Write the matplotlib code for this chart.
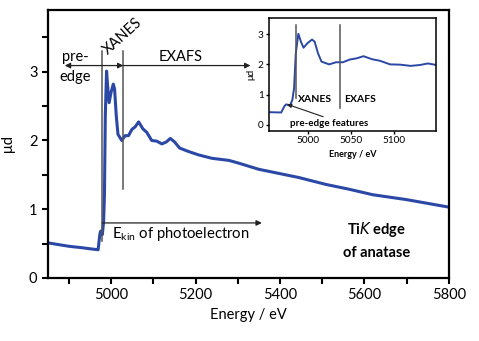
import matplotlib.pyplot as plt
import numpy as np

plt.rcParams['font.family'] = ['Lato', 'DejaVu Sans']

# Ti K edge of anatase
energy = [4850, 4900, 4930, 4955, 4969, 4973, 4975, 4979, 4982, 4984, 4986, 4989,
          4992, 4995, 5000, 5005, 5008, 5012, 5016, 5021, 5025, 5033, 5041, 5049,
          5057, 5065, 5075, 5084, 5096, 5108, 5120, 5131, 5140, 5150, 5162, 5183,
          5207, 5239, 5279, 5302, 5350, 5382, 5445, 5509, 5564, 5620, 5699, 5800]
mud = [0.51, 0.46, 0.44, 0.42, 0.41, 0.63, 0.68, 0.63, 0.82, 1.21, 2.36, 3.01,
       2.75, 2.55, 2.71, 2.82, 2.75, 2.36, 2.09, 2.04, 2.00, 2.07, 2.07, 2.16,
       2.20, 2.27, 2.17, 2.12, 2.00, 1.99, 1.95, 1.98, 2.03, 1.98, 1.89, 1.84,
       1.79, 1.74, 1.71, 1.67, 1.58, 1.54, 1.46, 1.36, 1.29, 1.21, 1.14, 1.03]

main_xticks = [5000, 5200, 5400, 5600, 5800]
main_yticks = [0, 1, 2, 3]
inset_xticks = [5000, 5050, 5100]
inset_yticks = [0, 1, 2, 3]

blue = '#2b48a6'
grey = '#555555'

fig = plt.figure(figsize=(4.79, 3.41), dpi=100)
ax = fig.add_axes([0.100, 0.185, 0.837, 0.786])
ax.plot(energy, mud, color=blue, lw=2.2)
ax.set_xlim(4850, 5800)
ax.set_ylim(0, 3.9)
ax.set_xticks(main_xticks)
ax.set_xticks([4900, 5100, 5300, 5500, 5700], minor=True)
ax.set_yticks(main_yticks)
ax.set_yticks([0.5, 1.5, 2.5, 3.5], minor=True)
for s in ax.spines.values():
    s.set_linewidth(1.6)
ax.tick_params(which='both', direction='out', width=1.5, length=4, labelsize=10.5)
ax.set_xlabel('Energy / eV', fontsize=10.5)
ax.set_ylabel('μd', fontsize=10.5, labelpad=10)

# region markers
ax.plot([4979, 4979], [0.53, 3.3], color=grey, lw=1.1)
ax.plot([5029, 5029], [1.3, 3.3], color=grey, lw=1.1)
arr = dict(arrowstyle='-|>', lw=0.9, color='#222222', mutation_scale=8, shrinkA=0, shrinkB=0)
ax.annotate('', xy=(4890, 3.09), xytext=(4979, 3.09), arrowprops=arr)
ax.annotate('', xy=(5029, 3.09), xytext=(4979, 3.09), arrowprops=arr)
ax.annotate('', xy=(5330, 3.09), xytext=(5029, 3.09), arrowprops=arr)
ax.annotate('', xy=(5357, 0.80), xytext=(4979, 0.80), arrowprops=arr)
ax.text(4914, 3.22, 'pre-', ha='center', va='center', fontsize=10.5)
ax.text(4914, 2.93, 'edge', ha='center', va='center', fontsize=10.5)
ax.text(5027, 3.52, 'XANES', ha='center', va='center', rotation=42, fontsize=10.5)
ax.text(5164, 3.22, 'EXAFS', ha='center', va='center', fontsize=10.5)
ax.text(5003, 0.64, 'E$_\\mathregular{kin}$ of photoelectron', ha='left', va='center', fontsize=10.7)
ax.text(5629, 0.70, 'Ti$\\mathbf{\\it{K}}$ edge', ha='center', va='center',
        fontsize=10.5, fontweight='bold')
ax.text(5629, 0.36, 'of anatase', ha='center', va='center', fontsize=10.5, fontweight='bold')

# inset
ins = fig.add_axes([0.562, 0.616, 0.349, 0.331])
ins.set_facecolor('white')
ins.plot(energy, mud, color=blue, lw=1.4)
ins.set_xlim(4955, 5150)
ins.set_ylim(-0.2, 3.53)
ins.set_xticks(inset_xticks)
ins.set_yticks(inset_yticks)
for s in ins.spines.values():
    s.set_linewidth(1.1)
ins.tick_params(direction='out', width=1, length=2.5, labelsize=7.2, pad=1.5)
ins.set_xlabel('Energy / eV', fontsize=6.5, fontweight='bold', labelpad=3)
ins.set_ylabel('μd', fontsize=7, labelpad=2)
ins.plot([4986, 4986], [0.9, 3.3], color=grey, lw=1.1)
ins.plot([5038, 5038], [0.55, 3.3], color=grey, lw=1.1)
ins.text(4989, 0.85, 'XANES', fontsize=7.5, fontweight='bold', va='center')
ins.text(5042, 0.85, 'EXAFS', fontsize=7.5, fontweight='bold', va='center')
ins.text(4979, 0.05, 'pre-edge features', fontsize=7, fontweight='bold', va='center')
ins.annotate('', xy=(4976, 0.68), xytext=(5018, 0.27),
             arrowprops=dict(arrowstyle='-|>', lw=0.8, color='#222222', mutation_scale=6,
                             shrinkA=0, shrinkB=0))

fig.savefig('out.png', dpi=100)
